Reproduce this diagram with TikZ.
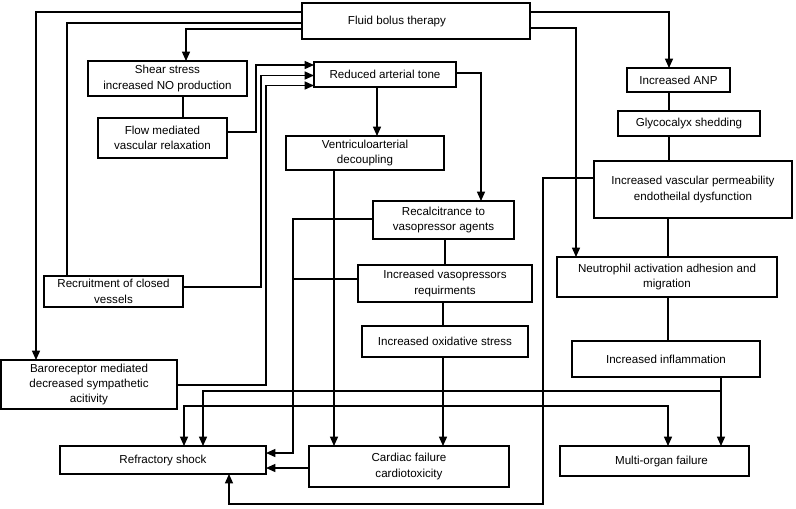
\documentclass[tikz,border=0pt]{standalone}
\usepackage{fontspec}
\setmainfont{Liberation Sans}
\usetikzlibrary{arrows.meta}
\begin{document}
\begin{tikzpicture}[x=0.75pt,y=-0.75pt,
  bx/.style={draw, line width=1pt, inner sep=0pt, outer sep=0pt, font=\fontsize{8.7}{11.5}\selectfont},
  bxc/.style={bx, align=center},
  ln/.style={line width=1pt},
  ar/.style={line width=1pt, -{Triangle[length=7pt,width=6pt]}},
  ar2/.style={line width=1pt, {Triangle[length=7pt,width=6pt]}-{Triangle[length=7pt,width=6pt]}}]
\useasboundingbox (0,0) rectangle (796,508);
% nodes
\node[bx, minimum width=171pt, minimum height=27pt] (fluid) at (416,21) {Fluid bolus therapy\kern28.5pt};
\node[bxc, minimum width=119.25pt, minimum height=26.25pt] (shear) at (167.5,78.5) {Shear stress\\increased NO production};
\node[bxc, minimum width=96.75pt, minimum height=30pt] (flow) at (162.5,138) {Flow mediated\\vascular relaxation};
\node[bx, minimum width=106.5pt, minimum height=18.75pt] (reduced) at (385,74.5) {Reduced arterial tone};
\node[bxc, minimum width=118.5pt, minimum height=25.5pt] (ventr) at (365,153) {Ventriculoarterial\\decoupling};
\node[bxc, minimum width=105.75pt, minimum height=28.5pt] (recalc) at (443.5,220) {Recalcitrance to\\vasopressor agents};
\node[bxc, minimum width=130.5pt, minimum height=27.75pt] (vasop) at (445,283.5) {Increased vasopressors\\requirments};
\node[bx, minimum width=124.5pt, minimum height=23.25pt] (oxid) at (445,341.5) {Increased oxidative stress};
\node[bx, minimum width=77.25pt, minimum height=18pt] (anp) at (678.5,80) {Increased ANP};
\node[bx, minimum width=106.5pt, minimum height=18.75pt] (glyco) at (689,123.5) {Glycocalyx shedding};
\node[bxc, minimum width=148.5pt, minimum height=42.75pt] (perm) at (693,189.5) {Increased vascular permeability\\endotheilal dysfunction};
\node[bxc, minimum width=165pt, minimum height=30pt] (neutro) at (667,277) {Neutrophil activation adhesion and\\migration};
\node[bx, minimum width=141pt, minimum height=27pt] (inflam) at (666,359) {Increased inflammation};
\node[bx, minimum width=141.75pt, minimum height=22.5pt] (multi) at (654.5,461) {\kern10.5pt Multi-organ failure};
\node[bxc, minimum width=150pt, minimum height=30.75pt] (cardiac) at (409,466.5) {Cardiac failure\\cardiotoxicity};
\node[bx, minimum width=154.5pt, minimum height=21pt] (refr) at (163,460) {Refractory shock};
\node[bxc, minimum width=132pt, minimum height=36.75pt] (baro) at (89,384.5) {Baroreceptor mediated\\decreased sympathetic\\acitivity};
\node[bxc, minimum width=104.25pt, minimum height=23.25pt] (recruit) at (113.5,291.5) {Recruitment of closed\\vessels};
% connectors from fluid bolus therapy
\draw[ar] (fluid.west |- 0,12) -| (baro.north -| 36,0);
\draw[ln] (fluid.west |- 0,23) -| (recruit.north -| 67,0);
\draw[ar] (fluid.west |- 0,29) -| (shear.north -| 186,0);
\draw[ar] (fluid.east |- 0,12) -| (anp.north -| 669,0);
\draw[ar] (fluid.east |- 0,28) -| (neutro.north -| 576,0);
% left column
\draw[ln] (shear.south -| 183,0) -- (flow.north -| 183,0);
\draw[ar] (flow.east |- 0,132) -- (256,132) |- (reduced.west |- 0,65);
\draw[ar] (recruit.east |- 0,287) -- (261,287) |- (reduced.west |- 0,75.5);
\draw[ar] (baro.east |- 0,385) -- (266,385) |- (reduced.west |- 0,85.5);
% middle column
\draw[ar] (reduced.south -| 377,0) -- (ventr.north -| 377,0);
\draw[ar] (reduced.east |- 0,73) -| (recalc.north -| 481,0);
\draw[ar] (ventr.south -| 334,0) -- (cardiac.north -| 334,0);
\draw[ar] (recalc.west |- 0,219) -- (293,219) |- (refr.east |- 0,453);
\draw[ln] (vasop.west |- 0,279) -- (293,279);
\draw[ln] (recalc.south -| 445,0) -- (vasop.north -| 445,0);
\draw[ln] (vasop.south -| 443,0) -- (oxid.north -| 443,0);
\draw[ar] (oxid.south -| 443,0) -- (cardiac.north -| 443,0);
\draw[ar] (cardiac.west |- 0,468) -- (refr.east |- 0,468);
% right column
\draw[ln] (anp.south -| 669,0) -- (glyco.north -| 669,0);
\draw[ln] (glyco.south -| 669,0) -- (perm.north -| 669,0);
\draw[ar] (perm.west |- 0,178) -- (543,178) -- (543,504) -| (refr.south -| 229,0);
\draw[ln] (perm.south -| 668,0) -- (neutro.north -| 668,0);
\draw[ln] (neutro.south -| 668,0) -- (inflam.north -| 668,0);
\draw[ar] (inflam.south -| 721,0) -- (multi.north -| 721,0);
\draw[ar] (721,391) -| (refr.north -| 203,0);
\draw[ar2] (refr.north -| 184,0) |- (668,406) -- (multi.north -| 668,0);
\end{tikzpicture}
\end{document}
